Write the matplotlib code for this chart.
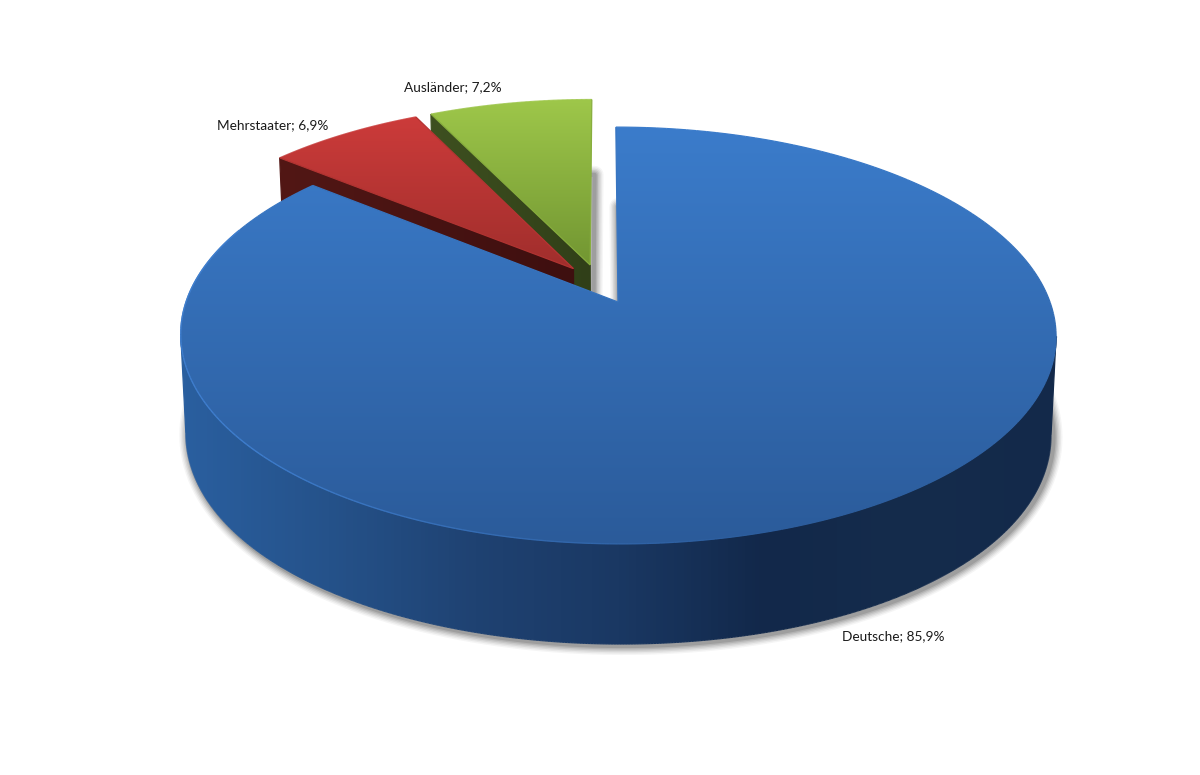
import numpy as np
import matplotlib
matplotlib.use('Agg')
import matplotlib.pyplot as plt
from matplotlib.collections import LineCollection
from matplotlib.colors import LinearSegmentedColormap
from matplotlib.patches import Polygon

categories = ['Deutsche', 'Mehrstaater', 'Ausländer']
shares = [85.9, 6.9, 7.2]
explode = [0.1, 0.1, 0.1]
label_pos = [(842, 636), (217, 125), (404, 87)]

top_colors = [('#3B7CCB', '#2B5B9A'), ('#CC3B3A', '#A02E2C'), ('#9EC74A', '#729632')]
wall_colors = [None, ('#521715', '#3E0F0F'), ('#3E5020', '#303F18')]
side_colors = ['#2A5F9F', '#25528A', '#1F4272', '#1A3863', '#12284A', '#152C4C', '#13294A']

# perspective of the pie, top plane and bottom plane (pixels)
cx = 618.0
shear = 2.5
top_plane = dict(y0=302.0, a=203.0, b=0.1607, k=432.0, bx=0.1607)
bot_plane = dict(y0=399.0, a=216.6, b=0.116, k=427.0, bx=0.16)


def project(X, Y, p):
    w = 1 - p['b'] * Y
    wx = 1 - p['bx'] * Y
    return cx + (p['k'] * X + shear * Y) / wx, p['y0'] + p['a'] * Y / w


def wedge_xy(t, off):
    rad = np.radians(t)
    return off[0] + np.sin(rad), off[1] - np.cos(rad)


def outline(t0, t1, off, plane):
    ts = np.linspace(t0, t1, 200)
    x, y = project(*wedge_xy(ts, off), plane)
    ax0, ay0 = project(off[0], off[1], plane)
    return np.column_stack([np.r_[ax0, x], np.r_[ay0, y]])


def grad_fill(ax, pts, colors, horizontal=False, zorder=3):
    # gradient image clipped to the polygon, edge stroked so it is not jagged
    cmap = LinearSegmentedColormap.from_list('r', colors)
    x0, x1 = pts[:, 0].min(), pts[:, 0].max()
    y0, y1 = pts[:, 1].min(), pts[:, 1].max()
    g = np.linspace(0, 1, 256)
    g = g.reshape(1, -1) if horizontal else g.reshape(-1, 1)
    im = ax.imshow(g, cmap=cmap, extent=(x0, x1, y1, y0), aspect='auto',
                   vmin=0, vmax=1, zorder=zorder, interpolation='bilinear')
    im.set_clip_path(Polygon(pts, closed=True, transform=ax.transData))
    closed = np.vstack([pts, pts[:1]])
    segs = np.stack([closed[:-1], closed[1:]], axis=1)
    mid = segs.mean(axis=1)
    v = (mid[:, 0] - x0) / (x1 - x0) if horizontal else (mid[:, 1] - y0) / (y1 - y0)
    ax.add_collection(LineCollection(segs, colors=cmap(v), linewidths=0.9, zorder=zorder))


def shadow(ax, pts, zorder=1):
    for lw, alpha in [(13, 0.05), (11, 0.07), (9, 0.09), (7, 0.11), (5, 0.14), (3, 0.18)]:
        ax.add_patch(Polygon(pts + [2.5, 2], closed=True, fill=False, lw=lw,
                             edgecolor=(0.25, 0.25, 0.25, alpha), joinstyle='round',
                             zorder=zorder))


fig = plt.figure(figsize=(12, 7.75), dpi=100, facecolor='white')
ax = fig.add_axes([0, 0, 1, 1])

angles = np.cumsum([0] + [s / sum(shares) * 360 for s in shares])
mids = (angles[:-1] + angles[1:]) / 2
dirs = np.column_stack([np.sin(np.radians(mids)), -np.cos(np.radians(mids))])
offsets = np.array(explode)[:, None] * dirs
offsets = offsets - offsets[0]  # first slice tip sits on the plane origin

for i in range(len(shares)):
    shadow(ax, outline(angles[i], angles[i + 1], offsets[i], bot_plane))

# drawn back to front: green, red, blue
z = 3
for i in [2, 1, 0]:
    t0, t1, off = angles[i], angles[i + 1], offsets[i]
    if wall_colors[i] is not None:
        top_edge = outline(t0, t0, off, top_plane)[[0, 1]]
        bot_edge = outline(t0, t0, off, bot_plane)[[0, 1]]
        wall = np.vstack([top_edge, bot_edge[::-1]])
        grad_fill(ax, wall, wall_colors[i], horizontal=True, zorder=z)
    else:
        # side of the big slice runs between the widest points of each rim
        ts = np.linspace(40, 300, 1500)
        X, Y = wedge_xy(ts, off)
        tx, ty = project(X, Y, top_plane)
        bx, by = project(X, Y, bot_plane)
        t_keep = (ts >= ts[tx.argmax()]) & (ts <= ts[tx.argmin()])
        b_keep = (ts >= ts[bx.argmax()]) & (ts <= ts[bx.argmin()])
        wall = np.vstack([np.column_stack([tx[t_keep], ty[t_keep]]),
                          np.column_stack([bx[b_keep], by[b_keep]])[::-1]])
        grad_fill(ax, wall, side_colors, horizontal=True, zorder=z)
    grad_fill(ax, outline(t0, t1, off, top_plane), top_colors[i], zorder=z + 1)
    if i == 0:
        # light rim on the lit side of the pie, fades out towards the front
        ts = np.linspace(160, 292, 150)
        rx, ry = project(*wedge_xy(ts, off), top_plane)
        pts = np.column_stack([rx, ry])
        segs = np.stack([pts[:-1], pts[1:]], axis=1)
        fade = np.clip((ts[:-1] - 160) / 70, 0, 1) * 0.9
        rgba = np.tile([0.25, 0.50, 0.82, 0.0], (len(fade), 1))
        rgba[:, 3] = fade
        ax.add_collection(LineCollection(segs, colors=rgba, linewidths=1.0, zorder=z + 2))
    z += 3

for name, val, pos in zip(categories, shares, label_pos):
    label = f"{name}; {val:.1f}%".replace('.', ',')
    ax.text(pos[0], pos[1], label, fontsize=9.8, family='Lato', color='#1A1A1A',
            ha='left', va='center', zorder=20)

ax.set_xlim(0, 1200)
ax.set_ylim(775, 0)
ax.axis('off')
fig.savefig('out.png', dpi=100, facecolor='white')
